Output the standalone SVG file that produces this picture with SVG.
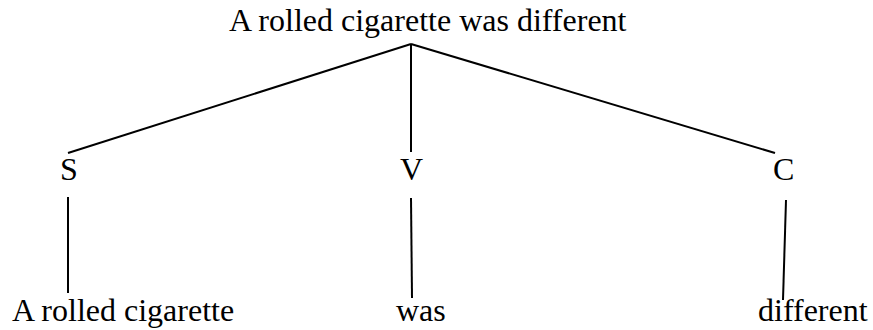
<svg xmlns="http://www.w3.org/2000/svg" width="873" height="330" viewBox="0 0 873 330">
<style>
text{font-family:"Liberation Serif","Times New Roman",serif;font-size:32px;fill:#000}
.c line{stroke:#000;stroke-width:2;fill:none}
</style>
<rect width="873" height="330" fill="#fff"/>
<g id="root"><text x="229" y="31">A rolled cigarette was different</text></g>
<g id="S"><text x="60" y="180">S</text></g>
<g id="V"><text x="400" y="180">V</text></g>
<g id="C"><text x="773" y="180">C</text></g>
<g id="subj"><text x="12" y="321">A rolled cigarette</text></g>
<g id="verb"><text x="396" y="321">was</text></g>
<g id="comp"><text x="758" y="321">different</text></g>
<g class="c" id="connectors">
<line x1="411" y1="44" x2="68" y2="153"/>
<line x1="411" y1="44" x2="411" y2="152"/>
<line x1="411" y1="44" x2="775" y2="153"/>
<line x1="68" y1="197" x2="68" y2="293"/>
<line x1="411" y1="198" x2="412" y2="298"/>
<line x1="786" y1="200" x2="783" y2="300"/>
</g>
</svg>
